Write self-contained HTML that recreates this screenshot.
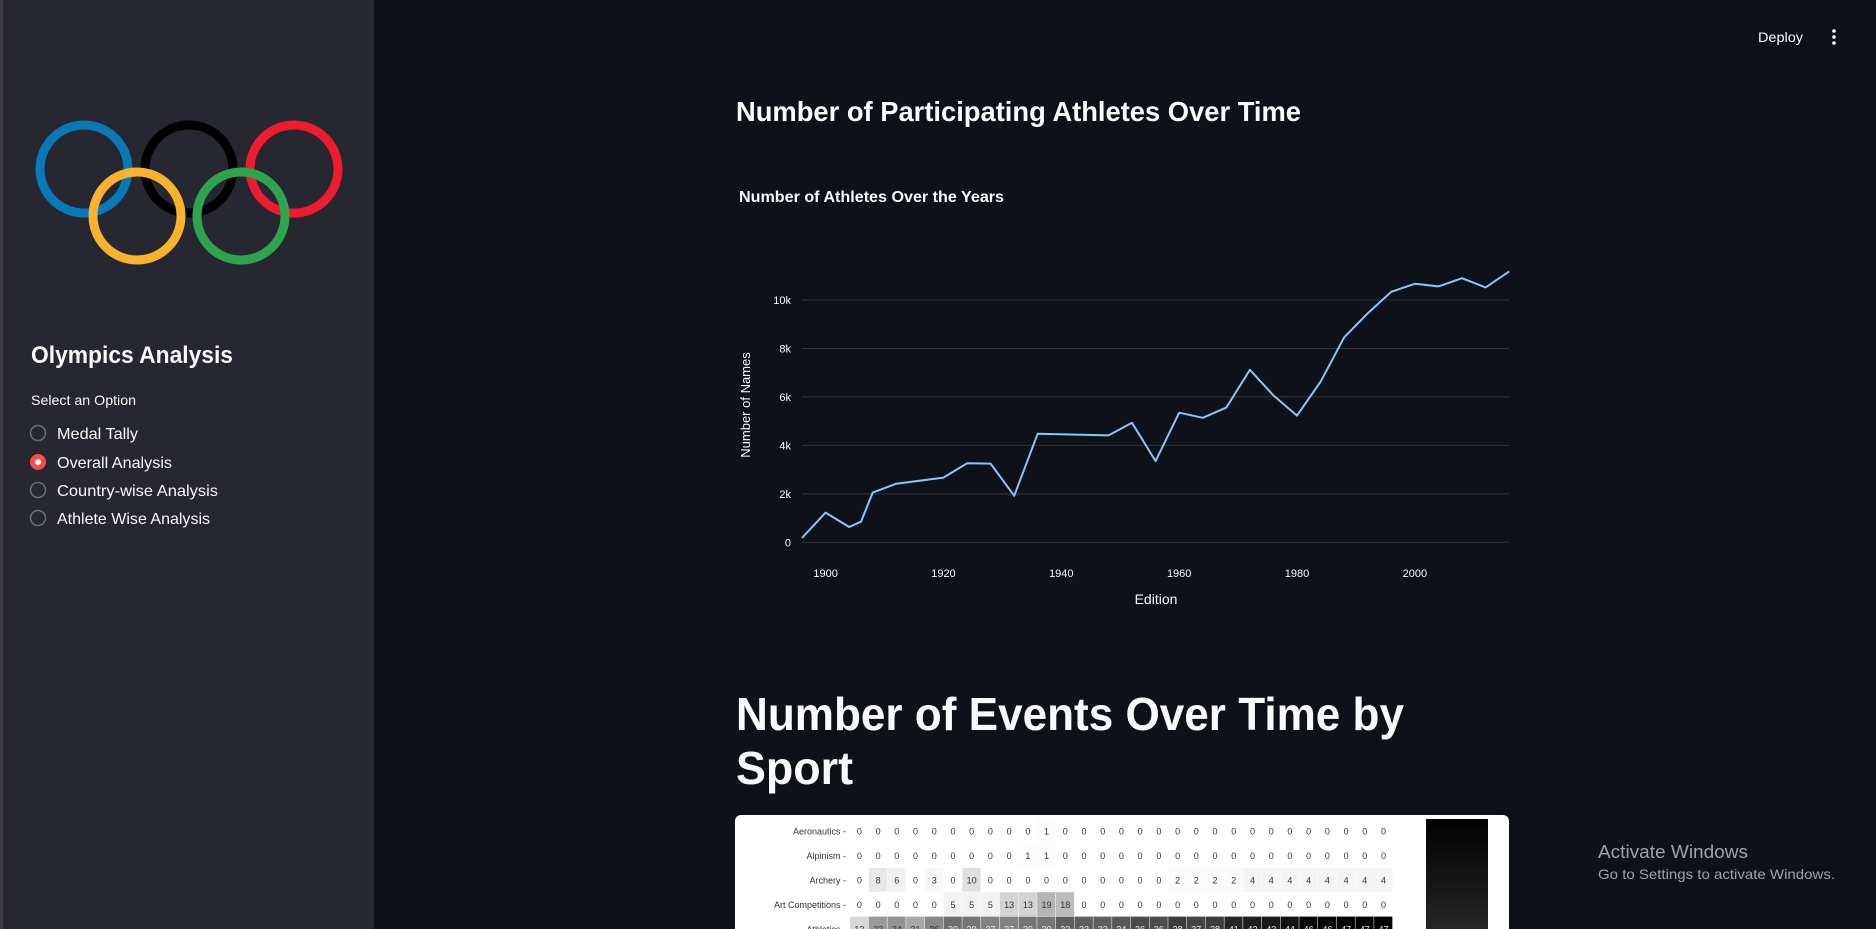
<!DOCTYPE html>
<html><head><meta charset="utf-8"><style>
html,body{margin:0;padding:0;width:1876px;height:929px;overflow:hidden;background:#0e1117;}
svg{display:block;font-family:"Liberation Sans",sans-serif;}
</style></head><body>
<svg id="page" width="1876" height="929" viewBox="0 0 1876 929" xmlns="http://www.w3.org/2000/svg">
<rect x="0" y="0" width="1876" height="929" fill="#0e1117"/>
<g>
  <rect x="0" y="0" width="374" height="929" fill="#262730"/>
  <rect x="0" y="0" width="3" height="929" fill="#3b3b40"/>
  <g fill="none" stroke-width="9">
    <circle cx="84" cy="169" r="44" stroke="#0a7ab7"/>
    <circle cx="189" cy="169" r="44" stroke="#000"/>
    <circle cx="294" cy="169" r="44" stroke="#ee1c2e"/>
    <circle cx="137" cy="216" r="44" stroke="#f9b22f"/>
    <circle cx="241" cy="216" r="44" stroke="#2ea44f"/>
  </g>
  <text x="31" y="363" fill="#fafafa" font-size="24" font-weight="bold" textLength="202" lengthAdjust="spacingAndGlyphs">Olympics Analysis</text>
  <text x="31" y="405" fill="#fafafa" font-size="14" textLength="105" lengthAdjust="spacingAndGlyphs">Select an Option</text>
  <g>
    <circle cx="38" cy="433" r="7.5" fill="none" stroke="#6b6d76" stroke-width="1.5"/>
    <text x="57" y="439" fill="#fafafa" font-size="16" textLength="81" lengthAdjust="spacingAndGlyphs">Medal Tally</text>
  </g>
  <g>
    <circle cx="38" cy="462" r="8" fill="#ff4b4b"/>
    <circle cx="38" cy="462" r="3" fill="#fff"/>
    <text x="57" y="468" fill="#fafafa" font-size="16" textLength="115" lengthAdjust="spacingAndGlyphs">Overall Analysis</text>
  </g>
  <g>
    <circle cx="38" cy="490" r="7.5" fill="none" stroke="#6b6d76" stroke-width="1.5"/>
    <text x="57" y="496" fill="#fafafa" font-size="16" textLength="161" lengthAdjust="spacingAndGlyphs">Country-wise Analysis</text>
  </g>
  <g>
    <circle cx="38" cy="518" r="7.5" fill="none" stroke="#6b6d76" stroke-width="1.5"/>
    <text x="57" y="524" fill="#fafafa" font-size="16" textLength="153" lengthAdjust="spacingAndGlyphs">Athlete Wise Analysis</text>
  </g>
</g>
<text x="1758" y="42" fill="#fafafa" font-size="14" textLength="45" lengthAdjust="spacingAndGlyphs">Deploy</text>
<g fill="#fafafa">
  <circle cx="1834" cy="31" r="1.8"/><circle cx="1834" cy="37" r="1.8"/><circle cx="1834" cy="43" r="1.8"/>
</g>
<text x="736" y="121" fill="#fafafa" font-size="28" font-weight="bold" textLength="565" lengthAdjust="spacingAndGlyphs">Number of Participating Athletes Over Time</text>
<g id="chart">
  <text x="739" y="202" fill="#fafafa" font-size="16" font-weight="bold" textLength="265" lengthAdjust="spacingAndGlyphs">Number of Athletes Over the Years</text>
  <text transform="translate(750,405) rotate(-90)" text-anchor="middle" fill="#fafafa" font-size="13">Number of Names</text>
  <text x="1156" y="604" text-anchor="middle" fill="#fafafa" font-size="14">Edition</text>
</g>
<text x="736" y="730" fill="#fafafa" font-size="46" font-weight="bold" textLength="668" lengthAdjust="spacingAndGlyphs">Number of Events Over Time by</text>
<text x="736" y="784" fill="#fafafa" font-size="46" font-weight="bold" textLength="117" lengthAdjust="spacingAndGlyphs">Sport</text>
<g id="heat">
  <rect x="735" y="815" width="774" height="130" rx="6" fill="#ffffff"/>
  <defs><linearGradient id="cb" x1="0" y1="0" x2="0" y2="1"><stop offset="0" stop-color="#000"/><stop offset="1" stop-color="#2a2a2a"/></linearGradient></defs>
  <rect x="1426" y="819" width="62" height="120" fill="url(#cb)"/>
</g>
<g fill="#a0a3a8">
  <text x="1598" y="858" font-size="18" textLength="150" lengthAdjust="spacingAndGlyphs">Activate Windows</text>
  <text x="1598" y="879" font-size="14" textLength="237" lengthAdjust="spacingAndGlyphs">Go to Settings to activate Windows.</text>
</g>
</svg>
<script>
const years = [1896,1900,1904,1906,1908,1912,1920,1924,1928,1932,1936,1948,1952,1956,1960,1964,1968,1972,1976,1980,1984,1988,1992,1996,2000,2004,2008,2012,2016];
const athletes = [180,1224,630,850,2050,2420,2670,3260,3250,1920,4480,4410,4930,3350,5350,5140,5560,7120,6060,5230,6630,8460,9450,10340,10670,10560,10900,10520,11180];
const yTicks = [0,2000,4000,6000,8000,10000];
const yTickLabels = ["0","2k","4k","6k","8k","10k"];
const xTicks = [1900,1920,1940,1960,1980,2000];
const sports = ["Aeronautics","Alpinism","Archery","Art Competitions","Athletics"];
const evAeronautics = [0,0,0,0,0,0,0,0,0,0,1,0,0,0,0,0,0,0,0,0,0,0,0,0,0,0,0,0,0];
const evAlpinism = [0,0,0,0,0,0,0,0,0,1,1,0,0,0,0,0,0,0,0,0,0,0,0,0,0,0,0,0,0];
const evArchery = [0,8,6,0,3,0,10,0,0,0,0,0,0,0,0,0,0,2,2,2,2,4,4,4,4,4,4,4,4];
const evArt = [0,0,0,0,0,5,5,5,13,13,19,18,0,0,0,0,0,0,0,0,0,0,0,0,0,0,0,0,0];
const evAthletics = [12,23,24,21,26,30,29,27,27,29,29,33,33,33,34,36,36,38,37,38,41,42,43,44,46,46,47,47,47];
const NS = "http://www.w3.org/2000/svg";
function mk(tag, attrs, parent){const e=document.createElementNS(NS,tag);for(const k in attrs)e.setAttribute(k,attrs[k]);parent.appendChild(e);return e;}
const chart=document.getElementById('chart');
const X0=802,X1=1509,Y0=542.3,Y10k=300;
const xs=y=>825.6+(y-1900)*5.893;
const ys=v=>Y0+(Y10k-Y0)*v/10000;
yTicks.forEach((t,i)=>{
  const g=mk('line',{x1:X0,x2:X1,y1:ys(t),y2:ys(t),stroke:'#31333f','stroke-width':1},chart);
  
  
  const l=mk('text',{x:791,y:ys(t)+4,'text-anchor':'end',fill:'#fafafa','font-size':11},chart);
  
  
  l.textContent=yTickLabels[i];
});
xTicks.forEach(t=>{
  const l=mk('text',{x:xs(t),y:577,'text-anchor':'middle',fill:'#fafafa','font-size':11},chart);
  
  
  l.textContent=t;
});
const pts=years.map((y,i)=>xs(y).toFixed(1)+','+ys(athletes[i]).toFixed(1)).join(' ');
const pl=mk('polyline',{points:pts,fill:'none',stroke:'#83c9ff','stroke-width':2,'stroke-linejoin':'round'},chart);


const heat=document.getElementById('heat');
const rows=[evAeronautics,evAlpinism,evArchery,evArt,evAthletics];
const CX0=850,CW=18.72,RY0=819,RH=24.4;
const greyStops=[[0,255],[0.125,240],[0.25,217],[0.375,189],[0.5,150],[0.625,115],[0.75,82],[0.875,37],[1,0]];
function grey(f){f=Math.max(0,Math.min(1,f));for(let i=1;i<greyStops.length;i++){if(f<=greyStops[i][0]){const a=greyStops[i-1],b=greyStops[i];return Math.round(a[1]+(b[1]-a[1])*(f-a[0])/(b[0]-a[0]));}}return 0;}
rows.forEach((r,ri)=>{
  const cy=RY0+ri*RH;
  const lab=mk('text',{x:CX0-4,y:cy+RH/2+3.5,'text-anchor':'end',fill:'#333','font-size':9},heat);
  
  
  lab.textContent=sports[ri]+' -';
  r.forEach((v,ci)=>{
    const shade=grey(v/47);
    const c=mk('rect',{x:CX0+ci*CW,y:cy,width:CW-0.5,height:RH-0.5,fill:`rgb(${shade},${shade},${shade})`},heat);
    
    
    const t=mk('text',{x:CX0+ci*CW+CW/2,y:cy+RH/2+3.5,'text-anchor':'middle',fill:shade<130?'#eee':'#333','font-size':9},heat);
    
    
    t.textContent=v;
  });
});
</script>
</body></html>
